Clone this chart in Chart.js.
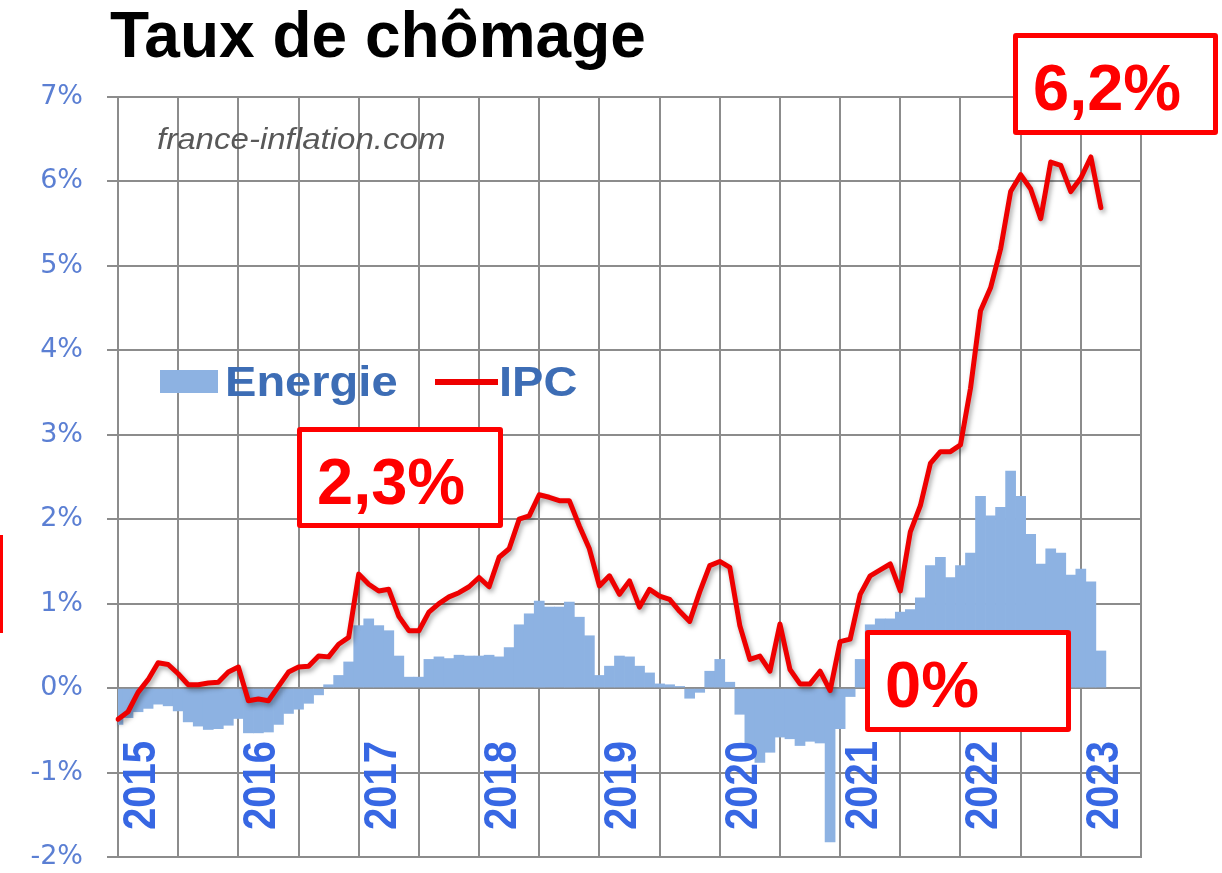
<!DOCTYPE html>
<html lang="fr">
<head>
<meta charset="utf-8">
<title>Taux de chômage</title>
<script src="https://cdn.jsdelivr.net/npm/chart.js@4.4.1/dist/chart.umd.min.js"></script>
<style>
  html, body { margin: 0; padding: 0; background: #fff; }
  #wrap { position: relative; width: 1222px; height: 873px; overflow: hidden;
          font-family: 'Liberation Sans', Arial, sans-serif; }
  #chart { position: absolute; left: 0; top: 0; }
  .abs { position: absolute; line-height: 1; white-space: nowrap; }
  .title { left: 110px; top: 3px; font-size: 64px; font-weight: bold; color: #000; }
  .wm { left: 157px; top: 125px; font-size: 29px; font-style: italic; color: #585858;
        transform: scaleX(1.14); transform-origin: left top; }
  .lg-text { top: 361px; font-size: 42px; font-weight: bold; color: #3d6db5;
             transform: scaleX(1.12); transform-origin: left top; }
  .callout { position: absolute; box-sizing: border-box; border: 5px solid #f00;
             border-radius: 3px; background: #fff; }
  .callout span { position: absolute; left: 15px; top: 17px; font-size: 65px; font-weight: bold;
                  line-height: 1; color: #f00; white-space: nowrap; }
</style>
</head>
<body>
<div id="wrap">
  <canvas id="chart" width="1222" height="873"></canvas>

  <div class="abs title">Taux de chômage</div>
  <div class="abs wm">france-inflation.com</div>

  <!-- légende dans la zone de tracé -->
  <div class="abs" style="left:160px;top:370px;width:58px;height:23px;background:#8db2e2;"></div>
  <div class="abs lg-text" style="left:225px;">Energie</div>
  <div class="abs" style="left:435px;top:379px;width:63px;height:6px;background:#e00;"></div>
  <div class="abs lg-text" style="left:499px;">IPC</div>

  <!-- encadrés -->
  <div class="callout" style="left:297px;top:427px;width:206px;height:101px;"><span>2,3%</span></div>
  <div class="callout" style="left:1013px;top:33px;width:205px;height:102px;"><span>6,2%</span></div>
  <div class="callout" style="left:865px;top:630px;width:206px;height:102px;"><span>0%</span></div>
  <div class="abs" style="left:0;top:535px;width:3px;height:98px;background:#f00;"></div>
</div>

<script>
/* ─── Data ──────────────────────────────────────────────────────────────── */
const YEARS = [2015, 2016, 2017, 2018, 2019, 2020, 2021, 2022, 2023];
const MONTH_COUNT = 103;           // janv. 2015 → juil. 2023 (bord droit)
const Y_MIN = -2;
const Y_MAX = 7;

// IPC, glissement annuel (%), mensuel de janv. 2015 à mars 2023
const IPC = [
  -0.37, -0.28, -0.05, 0.10, 0.30, 0.28, 0.17, 0.04, 0.04, 0.06, 0.07, 0.19,   // 2015
   0.25, -0.15, -0.13, -0.15, 0.02, 0.19, 0.25, 0.26, 0.38, 0.37, 0.52, 0.60,  // 2016
   1.35, 1.23, 1.15, 1.17, 0.85, 0.68, 0.68, 0.90, 1.00, 1.08, 1.13, 1.20,     // 2017
   1.31, 1.20, 1.55, 1.65, 2.00, 2.04, 2.29, 2.26, 2.22, 2.22, 1.92, 1.65,     // 2018
   1.21, 1.33, 1.11, 1.27, 0.96, 1.17, 1.09, 1.05, 0.91, 0.79, 1.14, 1.45,     // 2019
   1.50, 1.43, 0.74, 0.34, 0.38, 0.20, 0.76, 0.22, 0.05, 0.05, 0.20, -0.03,    // 2020
   0.55, 0.58, 1.11, 1.33, 1.40, 1.47, 1.15, 1.85, 2.16, 2.66, 2.80, 2.80,     // 2021
   2.88, 3.55, 4.47, 4.74, 5.20, 5.88, 6.08, 5.91, 5.56, 6.23, 6.19, 5.88,     // 2022
   6.04, 6.29, 5.69                                                            // 2023
];

// Energie (%), même période
const ENERGIE = [
  -0.43, -0.35, -0.28, -0.24, -0.19, -0.21, -0.27, -0.40, -0.45, -0.49, -0.48, -0.44, // 2015
  -0.36, -0.53, -0.53, -0.52, -0.43, -0.30, -0.25, -0.18, -0.08, 0.04, 0.15, 0.31,    // 2016
   0.74, 0.82, 0.74, 0.68, 0.38, 0.13, 0.13, 0.34, 0.37, 0.35, 0.39, 0.38,            // 2017
   0.38, 0.39, 0.37, 0.48, 0.75, 0.88, 1.03, 0.96, 0.96, 1.02, 0.84, 0.62,            // 2018
   0.15, 0.26, 0.38, 0.37, 0.26, 0.18, 0.05, 0.04, 0.02, -0.12, -0.05, 0.20,          // 2019
   0.34, 0.07, -0.31, -0.68, -0.88, -0.76, -0.58, -0.60, -0.68, -0.63, -0.65, -1.82,  // 2020
  -0.48, -0.10, 0.34, 0.75, 0.82, 0.82, 0.90, 0.93, 1.07, 1.45, 1.55, 1.31,           // 2021
   1.45, 1.60, 2.27, 2.04, 2.14, 2.57, 2.27, 1.82, 1.47, 1.65, 1.60, 1.34,            // 2022
   1.41, 1.26, 0.44                                                                    // 2023
];

/* ─── Colours ───────────────────────────────────────────────────────────── */
const GRID      = '#8c8c8c';
const BAR_BLUE  = '#8db2e2';
const LINE_RED  = '#ee0000';
const TICK_BLUE = '#5b7fd3';
const YEAR_BLUE = '#3767e3';

// monthly category labels
const labels = [];
for (let i = 0; i < MONTH_COUNT; i++) {
  const y = YEARS[0] + Math.floor(i / 12);
  labels.push(`${y}-${String(i % 12 + 1).padStart(2, '0')}`);
}

/* ─── Plugins ───────────────────────────────────────────────────────────── */
// soft drop shadow under the IPC line
const lineShadow = {
  id: 'lineShadow',
  beforeDatasetDraw(chart, args) {
    if (args.meta.type !== 'line') return;
    const ctx = chart.ctx;
    ctx.save();
    ctx.shadowColor = 'rgba(0,0,0,0.35)';
    ctx.shadowBlur = 5;
    ctx.shadowOffsetX = 2;
    ctx.shadowOffsetY = 3;
  },
  afterDatasetDraw(chart, args) {
    if (args.meta.type === 'line') chart.ctx.restore();
  },
};

// vertical year labels, drawn inside the plot at the bottom
const yearLabels = {
  id: 'yearLabels',
  afterDatasetsDraw(chart) {
    const { ctx, chartArea, scales: { x } } = chart;
    ctx.save();
    ctx.fillStyle = YEAR_BLUE;
    ctx.font = 'bold 40px "Liberation Sans", Arial, sans-serif';
    ctx.textAlign = 'left';
    ctx.textBaseline = 'alphabetic';
    YEARS.forEach(yr => {
      const px = x.getPixelForValue((yr - YEARS[0]) * 12);
      ctx.save();
      ctx.translate(px + 37, chartArea.bottom - 27);
      ctx.scale(1.15, 1);
      ctx.rotate(-Math.PI / 2);
      ctx.fillText(String(yr), 0, 0);
      ctx.restore();
    });
    ctx.restore();
  },
};

/* ─── Chart ─────────────────────────────────────────────────────────────── */
new Chart(document.getElementById('chart'), {
  data: {
    labels,
    datasets: [
      {
        type: 'line',
        label: 'IPC',
        data: IPC,
        borderColor: LINE_RED,
        borderWidth: 5,
        pointRadius: 0,
        tension: 0,
        borderJoinStyle: 'round',
        borderCapStyle: 'round',
        order: 0,
      },
      {
        type: 'bar',
        label: 'Energie',
        data: ENERGIE,
        backgroundColor: BAR_BLUE,
        borderWidth: 0,
        barPercentage: 1,
        categoryPercentage: 1,
        order: 1,
      },
    ],
  },
  options: {
    responsive: false,
    animation: false,
    layout: { padding: { top: 97, right: 81, left: 0, bottom: 0 } },
    plugins: {
      legend: { display: false },
      tooltip: { enabled: false },
    },
    scales: {
      x: {
        type: 'category',
        offset: false,
        grid: {
          offset: false,
          color: c => (c.index % 6 === 0 ? GRID : 'transparent'),
          lineWidth: 2,
          drawTicks: false,
        },
        border: { color: GRID, width: 2 },
        ticks: { display: false, autoSkip: false },
        afterFit: s => { s.height = 16; },
      },
      y: {
        min: Y_MIN,
        max: Y_MAX,
        ticks: {
          stepSize: 1,
          callback: v => v + '%',
          color: TICK_BLUE,
          padding: 24,
          font: { family: "'DejaVu Sans', sans-serif", size: 27 },
        },
        grid: { color: GRID, lineWidth: 2, tickLength: 11 },
        border: { color: GRID, width: 2 },
        afterFit: s => {
          s.width = 118;
          // tick padding would otherwise push the plot bottom up
          s.paddingTop = 0;
          s.paddingBottom = 0;
        },
      },
    },
  },
  plugins: [lineShadow, yearLabels],
});
</script>
</body>
</html>
